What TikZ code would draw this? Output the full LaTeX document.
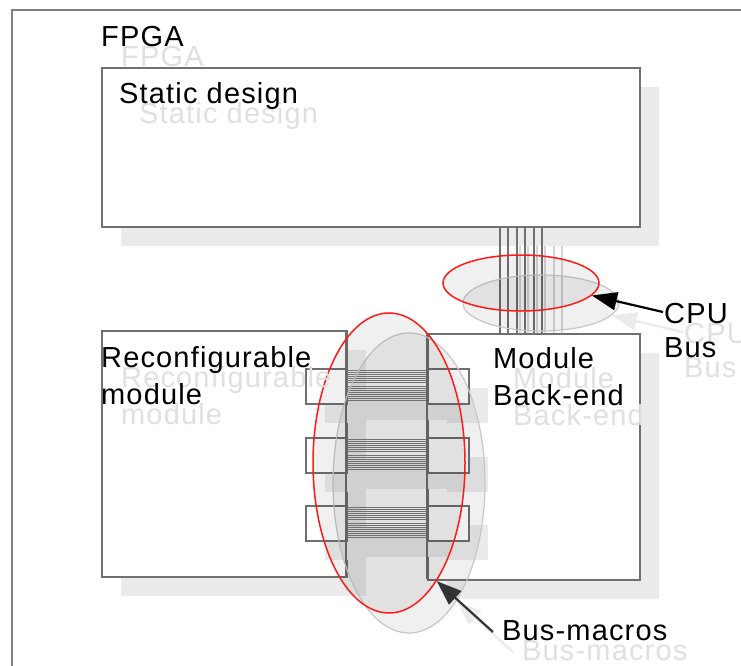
\documentclass[tikz,border=0pt]{standalone}
\usepackage{fontspec}
\setmainfont{Liberation Sans}[LetterSpace=4]
\usetikzlibrary{arrows.meta,calc,shapes.geometric}
\definecolor{edge}{HTML}{707070}
\definecolor{frameedge}{HTML}{808080}
\definecolor{shad}{HTML}{EBEBEB}
\definecolor{tshad}{HTML}{E0E0E0}
\definecolor{lshad}{HTML}{D6D6D6}
\definecolor{redline}{HTML}{FF1A1A}
\begin{document}
\begin{tikzpicture}[x=1pt,y=-1pt,
  box/.style={draw=edge,line width=2.2pt,fill=white,inner sep=0pt,anchor=north west},
  shbox/.style={fill=shad,draw=none,inner sep=0pt,anchor=north west},
  lbl/.style={font=\fontsize{29}{37}\selectfont,inner sep=0pt,anchor=base west,align=left},
  lblsh/.style={lbl,text=tshad},
  bus/.style={draw=edge,line width=2pt},
  bussh/.style={draw=lshad,line width=2pt},
  band/.style={draw=black!50,line width=1.1pt},
  ring/.style={ellipse,draw=redline,line width=1.5pt,fill=black,fill opacity=0.06,inner sep=0pt},
  ringsh/.style={ellipse,draw=black!22,line width=1.2pt,fill=black,fill opacity=0.06,inner sep=0pt},
  pointer/.style={line width=2.2pt,-{Triangle[length=25pt,width=18pt]}},
  pointersh/.style={pointer,draw=shad,fill=shad}]
\useasboundingbox (0,0) rectangle (741,666);
\clip (0,0) rectangle (741,666);
\fill[white] (0,0) rectangle (741,666);
% FPGA frame
\draw[draw=frameedge,line width=2.5pt] (12,10) rectangle (800,720);
% static design
\node[shbox,minimum width=538pt,minimum height=159pt] (staticsh) at (121,87) {};
\node[box,minimum width=538pt,minimum height=159pt] (static) at (101,67) {};
% bus line shadows
\foreach \xx in {520,528.4,536.8,545.2,553.6,562}
  \draw[bussh] (\xx,246) -- (\xx,353);
% reconfigurable module and back-end
\node[shbox,minimum width=245pt,minimum height=246pt] (recsh) at (121,350) {};
\node[shbox,minimum width=212pt,minimum height=246pt] (modsh) at (447,353) {};
\node[box,minimum width=245pt,minimum height=246pt] (rec) at (101,330) {};
\node[box,minimum width=212pt,minimum height=246pt] (mod) at (427,333) {};
% bus lines
\foreach \xx in {500,508.4,516.8,525.2,533.6,542}
  \draw[bus] (\xx,226) -- (\xx,333);
% bus macros
\foreach \yy/\nm in {368/a,437/b,505/c}{
  \node[shbox,minimum width=41pt,minimum height=35pt] (ml\nm sh) at (325,\yy+20) {};
  \node[shbox,minimum width=41pt,minimum height=35pt] (mr\nm sh) at (447,\yy+20) {};
  \fill[shad] (366,\yy+22) rectangle (447,\yy+52);
}
\foreach \yy/\nm in {368/a,437/b,505/c}{
  \node[box,minimum width=41pt,minimum height=35pt] (ml\nm) at (305,\yy) {};
  \node[box,minimum width=41pt,minimum height=35pt] (mr\nm) at (427,\yy) {};
  \foreach \k in {2.5,4.5,...,14.5}
    \draw[band] (346,\yy+\k) -- (427,\yy+\k);
  \foreach \k in {18.5,20.5,...,32.5}
    \draw[band] (346,\yy+\k) -- (427,\yy+\k);
}
\draw[draw=edge,line width=2.2pt] (346,330) -- (346,576);
\draw[draw=edge,line width=2.2pt] (427,333) -- (427,579);
% ellipses
\node[ringsh,minimum width=156pt,minimum height=56pt] (cpuellsh) at (541,303) {};
\node[ring,minimum width=156pt,minimum height=56pt] (cpuell) at (521,283) {};
\node[ringsh,minimum width=152pt,minimum height=300pt] (busellsh) at (409,483) {};
\node[ring,minimum width=152pt,minimum height=300pt] (busell) at (389,463) {};
% pointers
\coordinate (cpustart) at (663,312);
\coordinate (cpustartsh) at (683,332);
\coordinate (bmstart) at (493,632);
\coordinate (bmstartsh) at (513,652);
\draw[pointersh] (cpustartsh) -- ($(cpuell.-10)+(20,20)$);
\draw[pointersh] (bmstartsh) -- ($(busell.-68)+(20,20)$);
\draw[pointer,draw=black,fill=black] (cpustart) -- (cpuell.-10);
\draw[pointer,draw=black!80,fill=black!80] (bmstart) -- (busell.-68);
% labels: shadows (anchor at baseline of last line)
\node[lblsh] (fpgash) at (121,67) {FPGA};
\node[lblsh] (staticlblsh) at (139,124) {Static design};
\node[lblsh] (reclblsh) at (121,424) {Reconfigurable\\module};
\node[lblsh] (modlblsh) at (513,425) {Module\\Back-end};
\node[lblsh,font=\fontsize{29}{34}\selectfont] (cpulblsh) at (684,377) {CPU\\Bus};
\node[lblsh] (bmlblsh) at (522,660) {Bus-macros};
% labels
\node[lbl] (fpga) at (101,47) {FPGA};
\node[lbl] (staticlbl) at (119,104) {Static design};
\node[lbl] (reclbl) at (101,404) {Reconfigurable\\module};
\node[lbl] (modlbl) at (493,405) {Module\\Back-end};
\node[lbl,font=\fontsize{29}{34}\selectfont] (cpulbl) at (664,357) {CPU\\Bus};
\node[lbl] (bmlbl) at (502,640) {Bus-macros};
\end{tikzpicture}
\end{document}
